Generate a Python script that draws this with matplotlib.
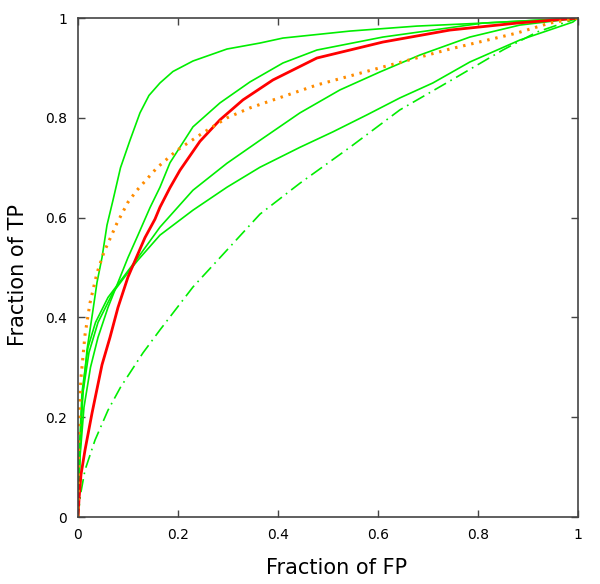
import matplotlib
matplotlib.use("Agg")
import matplotlib.pyplot as plt

# ROC curves (fraction FP, fraction TP)
green_a_x = [0, 0.003, 0.008, 0.018, 0.03, 0.038, 0.048, 0.058, 0.07, 0.085, 0.104, 0.124, 0.142, 0.164, 0.19, 0.23, 0.298, 0.364, 0.41, 0.544, 0.678, 0.81, 1]
green_a_y = [0, 0.1, 0.23, 0.335, 0.415, 0.47, 0.52, 0.585, 0.635, 0.7, 0.755, 0.81, 0.845, 0.87, 0.893, 0.914, 0.938, 0.95, 0.96, 0.974, 0.984, 0.99, 1]

green_b_x = [0, 0.004, 0.012, 0.025, 0.04, 0.06, 0.08, 0.1, 0.12, 0.144, 0.164, 0.184, 0.23, 0.284, 0.344, 0.41, 0.478, 0.61, 0.81, 1]
green_b_y = [0, 0.12, 0.22, 0.3, 0.36, 0.42, 0.47, 0.52, 0.565, 0.62, 0.661, 0.71, 0.782, 0.83, 0.872, 0.91, 0.936, 0.962, 0.99, 1]

green_c_x = [0, 0.002, 0.008, 0.02, 0.035, 0.06, 0.09, 0.12, 0.164, 0.23, 0.298, 0.364, 0.444, 0.524, 0.604, 0.684, 0.784, 0.884, 1]
green_c_y = [0, 0.12, 0.25, 0.34, 0.39, 0.44, 0.48, 0.52, 0.581, 0.655, 0.709, 0.755, 0.81, 0.856, 0.892, 0.926, 0.962, 0.986, 1]

green_d_x = [0, 0.003, 0.01, 0.022, 0.04, 0.07, 0.1, 0.12, 0.164, 0.23, 0.298, 0.364, 0.444, 0.51, 0.578, 0.644, 0.71, 0.784, 0.884, 0.99, 1]
green_d_y = [0, 0.12, 0.25, 0.33, 0.39, 0.45, 0.49, 0.515, 0.565, 0.615, 0.661, 0.701, 0.741, 0.772, 0.806, 0.84, 0.87, 0.912, 0.956, 0.992, 1]

green_e_x = [0, 0.005, 0.014, 0.034, 0.06, 0.085, 0.13, 0.164, 0.23, 0.298, 0.364, 0.444, 0.544, 0.644, 0.758, 0.85, 0.918, 1]
green_e_y = [0, 0.045, 0.094, 0.154, 0.214, 0.26, 0.329, 0.375, 0.461, 0.535, 0.607, 0.669, 0.741, 0.816, 0.882, 0.936, 0.972, 1]

red_x = [0, 0.002, 0.006, 0.014, 0.028, 0.048, 0.064, 0.08, 0.1, 0.118, 0.134, 0.154, 0.164, 0.184, 0.204, 0.244, 0.284, 0.33, 0.39, 0.478, 0.61, 0.744, 0.878, 1]
red_y = [0, 0.035, 0.085, 0.134, 0.208, 0.305, 0.36, 0.42, 0.481, 0.523, 0.56, 0.597, 0.621, 0.66, 0.695, 0.753, 0.796, 0.836, 0.876, 0.92, 0.952, 0.976, 0.99, 1]

orange_x = [0, 0.002, 0.006, 0.014, 0.024, 0.038, 0.052, 0.078, 0.1, 0.118, 0.158, 0.198, 0.25, 0.298, 0.344, 0.478, 0.61, 0.744, 0.878, 0.944, 1]
orange_y = [0, 0.2, 0.28, 0.365, 0.429, 0.489, 0.531, 0.589, 0.631, 0.655, 0.7, 0.735, 0.77, 0.8, 0.82, 0.866, 0.902, 0.938, 0.97, 0.99, 1]

ticks = [0, 0.2, 0.4, 0.6, 0.8, 1]
tick_labels = ["0", "0.2", "0.4", "0.6", "0.8", "1"]

fig = plt.figure(figsize=(6, 5.84), dpi=100)
ax = fig.add_axes([0.13, 0.1147, 0.833, 0.8543])

green = "#00ee00"
for gx, gy in [(green_a_x, green_a_y), (green_b_x, green_b_y), (green_c_x, green_c_y), (green_d_x, green_d_y)]:
    ax.plot(gx, gy, color=green, lw=1.2, solid_joinstyle="round")
ax.plot(green_e_x, green_e_y, color=green, lw=1.2, dashes=(8, 3, 1, 3))
ax.plot(red_x, red_y, color="#ff0000", lw=2, solid_joinstyle="round")
ax.plot(orange_x, orange_y, color="#ff8c00", lw=2.2, dashes=(0.8, 1.9))

ax.set_xlim(0, 1)
ax.set_ylim(0, 1)
ax.set_xticks(ticks)
ax.set_xticklabels(tick_labels)
ax.set_yticks(ticks)
ax.set_yticklabels(tick_labels)
ax.tick_params(direction="in", length=5, width=1, color="#444444",
               top=True, right=True, labelsize=10, pad=8)
for s in ax.spines.values():
    s.set_color("#444444")
    s.set_linewidth(1.2)

ax.set_xlabel("Fraction of FP", fontsize=15)
ax.set_ylabel("Fraction of TP", fontsize=15)
ax.xaxis.set_label_coords(0.518, -0.083)
ax.yaxis.set_label_coords(-0.1, 0.485)

fig.savefig("out.png", dpi=100)
